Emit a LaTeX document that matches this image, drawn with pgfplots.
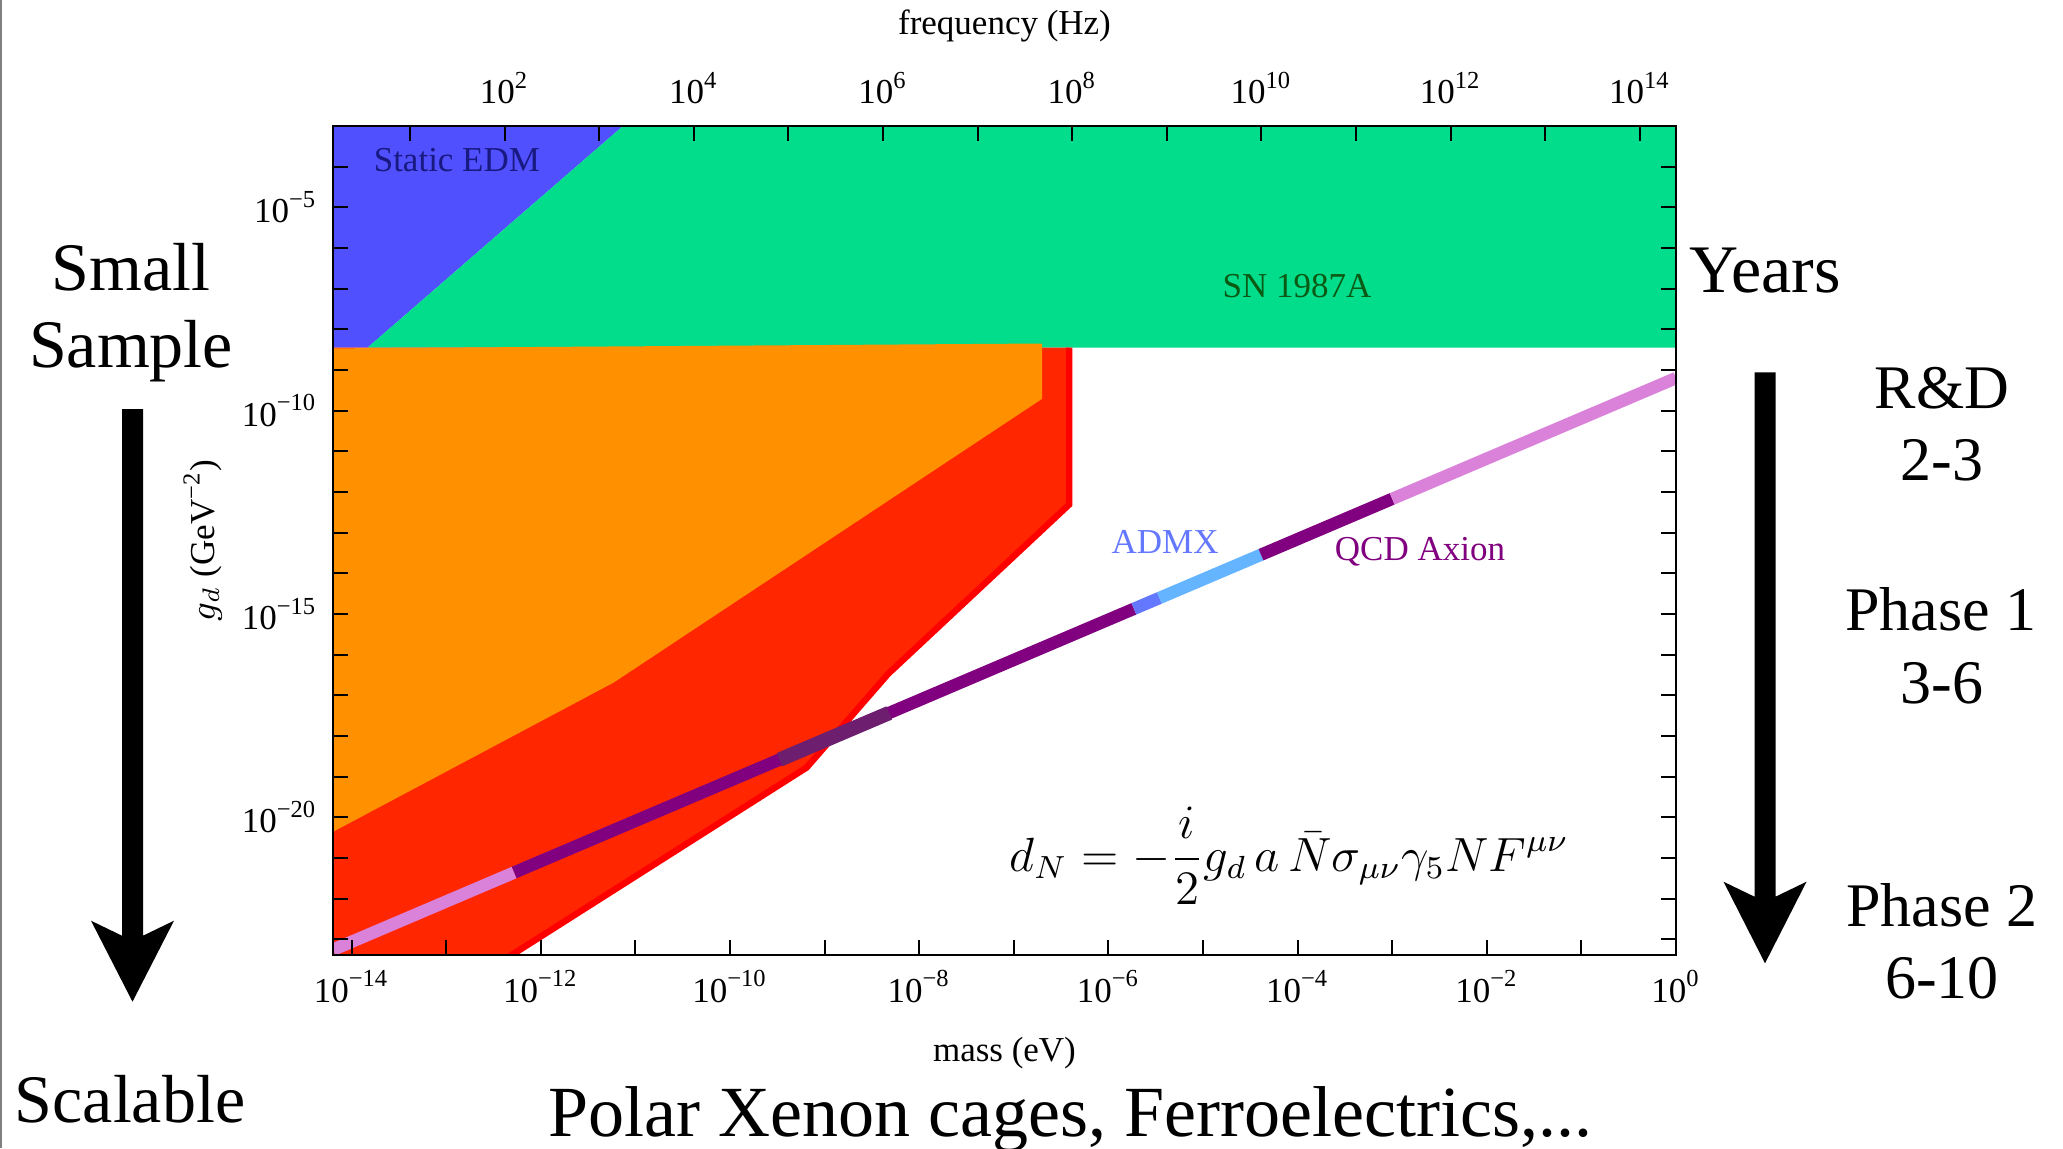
\documentclass[border=0pt]{standalone}
\usepackage[no-math]{fontspec}
\setmainfont{Liberation Serif}
\usepackage{graphicx}
\usepackage{pgfplots}
\pgfplotsset{compat=1.18}

\definecolor{cBlue}{RGB}{80,80,255}
\definecolor{cGreen}{RGB}{2,221,140}
\definecolor{cOrange}{RGB}{255,145,0}
\definecolor{cRed}{RGB}{255,38,0}
\definecolor{cRedEdge}{RGB}{255,0,0}
\definecolor{cPink}{RGB}{218,130,218}
\definecolor{cPurple}{RGB}{128,0,128}
\definecolor{cMidBlue}{RGB}{100,120,255}
\definecolor{cLightBlue}{RGB}{100,180,255}
\definecolor{cDark}{RGB}{110,30,110}
\definecolor{cEDM}{RGB}{25,25,130}
\definecolor{cSN}{RGB}{10,90,20}

\newcommand{\axfont}{\fontsize{8.75}{10}\selectfont}
\newcommand{\bigfont}{\fontsize{17}{20}\selectfont}
\newcommand{\rfont}{\fontsize{15.5}{18}\selectfont}

\begin{document}
\begin{tikzpicture}
\path[use as bounding box] (0,0) rectangle (515.75pt,287pt);

\begin{axis}[
  at={(83.25pt,48.25pt)}, anchor=south west,
  scale only axis, width=335.75pt, height=207.25pt,
  xmode=log, ymode=log,
  xmin=6.368e-15, xmax=1, ymin=4.074e-24, ymax=1e-3,
  axis on top,
  axis line style={line width=0.7pt},
  tick style={line width=0.5pt, black},
  major tick length=3.75pt, minor tick length=3.75pt,
  tick align=inside,
  xtick pos=left,
  xtick={1e-14,1e-12,1e-10,1e-8,1e-6,1e-4,1e-2,1},
  minor xtick={1e-13,1e-11,1e-9,1e-7,1e-5,1e-3,1e-1},
  xticklabels={10\textsuperscript{−14},10\textsuperscript{−12},10\textsuperscript{−10},10\textsuperscript{−8},10\textsuperscript{−6},10\textsuperscript{−4},10\textsuperscript{−2},10\textsuperscript{0}},
  ytick={1e-5,1e-10,1e-15,1e-20},
  minor ytick={1e-4,1e-6,1e-7,1e-8,1e-9,1e-11,1e-12,1e-13,1e-14,1e-16,1e-17,1e-18,1e-19,1e-21,1e-22,1e-23},
  yticklabels={10\textsuperscript{−5},10\textsuperscript{−10},10\textsuperscript{−15},10\textsuperscript{−20}},
  tick label style={font=\axfont},
  label style={font=\axfont},
  xticklabel style={anchor=base, yshift=-11.75pt},
  yticklabel style={anchor=east, inner sep=0pt, xshift=-3.75pt},
  xlabel={mass (eV)},
  xlabel style={at={(axis description cs:0.5,-0.1279)}, anchor=base},
  ylabel={$g_d$ (GeV\textsuperscript{−2})},
  ylabel style={at={(axis description cs:-0.0879,0.5)}, anchor=base},
]
% Static EDM
\addplot[fill=cBlue, draw=none] coordinates {(1e-15,1e-3) (7.413e-12,1e-3) (1.479e-14,3.548e-9) (1e-15,3.548e-9)};
% SN 1987A
\addplot[fill=cGreen, draw=none] coordinates {(7.413e-12,1e-3) (2,1e-3) (2,3.548e-9) (1.479e-14,3.548e-9)};
% red region
\addplot[fill=cRed, draw=none] coordinates {(1e-15,3.548e-9) (3.855e-7,3.548e-9) (3.855e-7,4.898e-13) (4.677e-9,3.311e-17) (6.457e-10,1.660e-19) (1.905e-13,1e-24) (1e-15,1e-24)};
\addplot[cRedEdge, line width=1.6pt] coordinates {(3.855e-7,3.548e-9) (3.855e-7,4.898e-13) (4.677e-9,3.311e-17) (6.457e-10,1.660e-19) (1.905e-13,1e-24)};
% orange region
\addplot[fill=cOrange, draw=none] coordinates {(6.368e-15,3.388e-9) (1.995e-7,4.467e-9) (1.995e-7,1.950e-10) (5.888e-12,2.042e-17) (6.368e-15,4.365e-21)};
% QCD axion band
\addplot[cPink, line width=3.1pt] coordinates {(6.368e-15,5.495e-24) (5.248e-13,4.365e-22)};
\addplot[cPurple, line width=3.1pt] coordinates {(5.248e-13,4.365e-22) (1.862e-6,1.334e-15)};
\addplot[cMidBlue, line width=3.1pt] coordinates {(1.862e-6,1.334e-15) (3.467e-6,2.466e-15)};
\addplot[cLightBlue, line width=3.1pt] coordinates {(3.467e-6,2.466e-15) (4.102e-5,2.851e-14)};
\addplot[cPurple, line width=3.1pt] coordinates {(4.102e-5,2.851e-14) (1e-3,6.745e-13)};
\addplot[cPink, line width=3.1pt] coordinates {(1e-3,6.745e-13) (1,6.310e-10)};
\addplot[cDark, line width=3.6pt] coordinates {(3.342e-10,2.600e-19) (4.831e-9,3.664e-18)};

\node[anchor=base, text=cEDM, font=\axfont] at (axis cs:1.300e-13,7.586e-5) {Static EDM};
\node[anchor=base, text=cSN, font=\axfont] at (axis cs:9.863e-5,6.026e-8) {SN 1987A};
\node[anchor=base, text=cMidBlue, font=\axfont] at (axis cs:3.981e-6,3.090e-14) {ADMX};
\node[anchor=base, text=cPurple, font=\axfont] at (axis cs:1.968e-3,2.089e-14) {QCD Axion};
\node[anchor=base, inner sep=0pt] at (axis cs:8.128e-5,4.677e-22) {\scalebox{1.02}[1]{\fontsize{11.5}{13}\selectfont$\displaystyle d_N = -\frac{i}{2} g_d\, a\, \bar{N}\sigma_{\mu\nu}\gamma_5 N F^{\mu\nu}$}};
\end{axis}

\begin{axis}[
  at={(83.25pt,48.25pt)}, anchor=south west,
  scale only axis, width=335.75pt, height=207.25pt,
  xmode=log, xmin=1.538, xmax=2.415e14, ymin=0, ymax=1,
  axis x line*=top, axis y line=none,
  axis line style={line width=0.7pt},
  tick style={line width=0.5pt, black},
  major tick length=3.75pt, minor tick length=3.75pt,
  tick align=inside,
  xtick={1e2,1e4,1e6,1e8,1e10,1e12,1e14},
  minor xtick={1e1,1e3,1e5,1e7,1e9,1e11,1e13},
  xticklabels={10\textsuperscript{2},10\textsuperscript{4},10\textsuperscript{6},10\textsuperscript{8},10\textsuperscript{10},10\textsuperscript{12},10\textsuperscript{14}},
  tick label style={font=\axfont},
  label style={font=\axfont},
  xticklabel style={anchor=base, yshift=5.5pt},
  xlabel={frequency (Hz)},
  xlabel style={at={(axis description cs:0.5,1.1098)}, anchor=base},
]
\addplot[draw=none] coordinates {(10,0.5)};
\end{axis}

\begin{scope}[x=0.25pt, y=-0.25pt, yshift=287pt]
\draw[gray, line width=0.5pt] (1,0) -- (1,1148);
\node[font=\bigfont, anchor=base] at (131,290) {Small};
\node[font=\bigfont, anchor=base] at (131,367) {Sample};
\node[font=\bigfont, anchor=base] at (130,1122) {Scalable};
\fill (122,409) -- (143,409) -- (143,935.7) -- (174,920.7) -- (132.5,1001.7) -- (91,920.7) -- (122,935.7) -- cycle;
\node[font=\bigfont, anchor=base] at (1765,292) {Years};
\fill (1754.5,372.3) -- (1775.5,372.3) -- (1775.5,896.7) -- (1806.5,881.7) -- (1765,963.3) -- (1723.5,881.7) -- (1754.5,896.7) -- cycle;
\node[font=\rfont, anchor=base] at (1942,408.3) {R\&D};
\node[font=\rfont, anchor=base] at (1942,480) {2-3};
\node[font=\rfont, anchor=base] at (1941,630) {Phase 1};
\node[font=\rfont, anchor=base] at (1942,703.3) {3-6};
\node[font=\rfont, anchor=base] at (1942,926.7) {Phase 2};
\node[font=\rfont, anchor=base] at (1942,998) {6-10};
\node[font=\fontsize{18}{22}\selectfont, anchor=base] at (1070.7,1136.7) {Polar Xenon cages, Ferroelectrics,...};
\end{scope}
\end{tikzpicture}
\end{document}
